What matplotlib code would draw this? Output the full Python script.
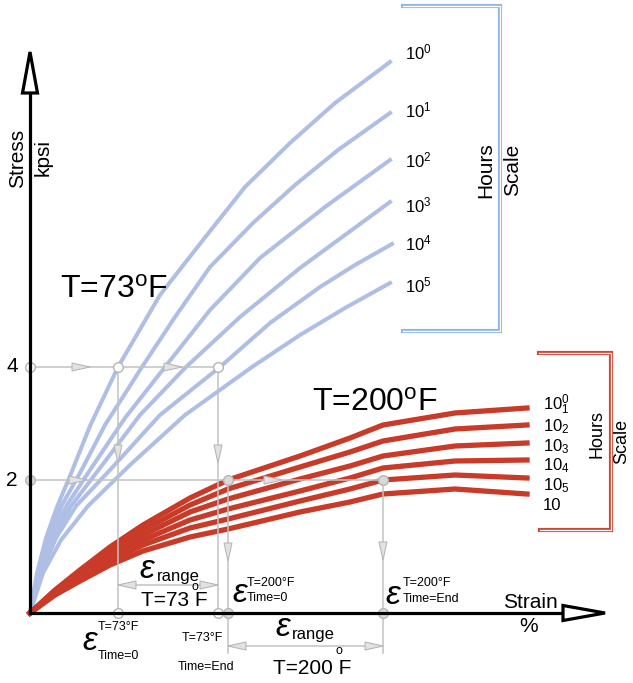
import matplotlib.pyplot as plt
from matplotlib.patches import Polygon

plt.rcParams['font.family'] = ['Liberation Sans', 'DejaVu Sans']
plt.rcParams['mathtext.fontset'] = 'custom'
plt.rcParams['mathtext.rm'] = 'Liberation Sans'
plt.rcParams['mathtext.it'] = 'Liberation Sans:italic'
plt.rcParams['mathtext.default'] = 'regular'

BLUE = '#aebee4'
RED = '#c93a28'
GUIDE = '#c2c2c2'

# diagram units (schematic, origin at the axes corner)
hours_labels_73 = ['10$^{0}$', '10$^{1}$', '10$^{2}$', '10$^{3}$', '10$^{4}$', '10$^{5}$']
hours_labels_200 = ['10$^{0}_{1}$', '10$_{2}$', '10$_{3}$', '10$_{4}$', '10$_{5}$', '10']

# T = 73 F curves, 10^0 .. 10^5 hours
strain_73 = [
    [0, 7, 16, 27, 40, 60, 88, 130, 173, 215, 260, 305, 360],
    [0, 8, 19, 32, 50, 75, 112, 145, 180, 223, 265, 308, 360],
    [0, 9, 21, 37, 60, 95, 135, 180, 230, 295, 360],
    [0, 10, 23, 41, 70, 110, 156, 210, 270, 315, 360],
    [0, 11, 26, 46, 80, 130, 190, 240, 290, 325, 362],
    [0, 13, 31, 58, 100, 155, 222, 270, 315, 360],
]
stress_73 = [
    [0, 40, 75, 106, 137, 187, 246, 318, 373, 426, 470, 510, 551],
    [0, 40, 77, 108, 140, 188, 246, 296, 346, 390, 428, 463, 500],
    [0, 40, 76, 108, 143, 195, 246, 303, 355, 406, 453],
    [0, 40, 75, 107, 145, 198, 246, 296, 345, 378, 411],
    [0, 40, 75, 107, 143, 198, 246, 290, 326, 348, 369],
    [0, 40, 73, 107, 148, 198, 246, 278, 305, 330],
]

# T = 200 F curves, 10^0 .. 10^5 hours
strain_200 = [0, 25, 50, 80, 113, 160, 198, 270, 320, 353, 425, 497]
stress_200 = [
    [0, 23, 43, 66, 88, 115, 133, 157, 175, 188, 200, 205],
    [0, 22, 40, 62, 83, 108, 124, 146, 161, 172, 184, 188],
    [0, 21, 38, 58, 78, 101, 114, 134, 147, 157, 167, 170],
    [0, 20, 36, 55, 73, 93, 104, 122, 135, 145, 152, 153],
    [0, 19, 34, 52, 68, 85, 94, 112, 124, 133, 138, 135],
    [0, 18, 32, 48, 62, 76, 84, 101, 111, 119, 124, 119],
]

stress_ticks = [133, 246]
stress_tick_labels = ['2', '4']

# read-off points
eps_73_start, eps_73_end = 88, 188
eps_200_start, eps_200_end = 198, 353
stress_73_level, stress_200_level = 246, 133

fig = plt.figure(figsize=(6.33, 6.83), dpi=100)
ax = fig.add_axes([0, 0, 1, 1])
ax.set_xlim(-30, 603)
ax.set_ylim(-70, 613)
ax.axis('off')


def head(x, y, d, length=18, half=4):
    dx, dy = {'r': (1, 0), 'l': (-1, 0), 'd': (0, -1)}[d]
    bx, by = x - dx * length, y - dy * length
    ox, oy = -dy * half, dx * half
    ax.add_patch(Polygon([(x, y), (bx + ox, by + oy), (bx - ox, by - oy)], closed=True,
                         fc='#e2e2e2', ec='#b8b8b8', lw=0.8, zorder=4))


def bracket(xs, ys, color):
    ax.plot(xs, ys, color=color, lw=3.0, solid_joinstyle='miter', zorder=2)
    ax.plot(xs, ys, color='white', lw=0.9, solid_joinstyle='miter', zorder=2)


# guide lines
g = dict(color=GUIDE, lw=1.1, zorder=3)
ax.plot([0, eps_73_end], [stress_73_level] * 2, **g)
ax.plot([eps_73_start] * 2, [stress_73_level, 0], **g)
ax.plot([eps_73_end] * 2, [stress_73_level, 0], **g)
ax.plot([0, eps_200_end], [stress_200_level] * 2, **g)
ax.plot([eps_200_start] * 2, [stress_200_level, -40], **g)
ax.plot([eps_200_end] * 2, [stress_200_level, -40], **g)
ax.plot([eps_73_start, eps_73_end], [28, 28], **g)
ax.plot([eps_200_start, eps_200_end], [-33, -33], **g)

# curves
for xs, ys in zip(strain_73, stress_73):
    ax.plot(xs, ys, color=BLUE, lw=2.9, zorder=2)
for ys in stress_200:
    ax.plot(strain_200, ys, color=RED, lw=3.8, zorder=2.5)

# arrow heads on guides
head(60, stress_73_level, 'r')
head(152, stress_73_level, 'r')
head(57, stress_200_level, 'r')
head(252, stress_200_level, 'r')
head(eps_73_start, 150, 'd')
head(eps_73_end, 150, 'd')
head(eps_200_start, 52, 'd')
head(eps_200_end, 53, 'd')
head(eps_73_start, 28, 'l')
head(eps_73_end, 28, 'r')
head(eps_200_start, -33, 'l')
head(eps_200_end, -33, 'r')

# dots
wdot = dict(marker='o', ls='none', ms=7, mfc='white', mec='#b5b5b5', mew=1, zorder=5)
gdot = dict(marker='o', ls='none', ms=7, mfc='#d9d9d9', mec='#b5b5b5', mew=1, zorder=5)
ax.plot([0, eps_73_start, eps_73_end, eps_73_start, eps_73_end],
        [stress_73_level, stress_73_level, stress_73_level, 0, 0], **wdot)
ax.plot([0, eps_200_start, eps_200_end, eps_200_start, eps_200_end],
        [stress_200_level, stress_200_level, stress_200_level, 0, 0], **gdot)

# axes with hollow arrow heads
ax.plot([0, 0, 533], [520, 0, 0], color='black', lw=2.3, solid_joinstyle='miter', zorder=6)
ax.add_patch(Polygon([(0, 561), (-7.5, 520), (7.5, 520)], closed=True, fc='white',
                     ec='black', lw=2.3, zorder=6))
ax.add_patch(Polygon([(575, 0), (533, 7.5), (533, -7.5)], closed=True, fc='white',
                     ec='black', lw=2.3, zorder=6))

for t, lab in zip(stress_ticks, stress_tick_labels):
    ax.text(-18, t, lab, fontsize=15, ha='center', va='center')
ax.text(-12, 455, 'Stress', fontsize=15, rotation=90, ha='center', va='center')
ax.text(13, 455, 'kpsi', fontsize=15, rotation=90, ha='center', va='center')
ax.text(500, 10, 'Strain', fontsize=15, ha='center', va='center')
ax.text(499, -13, '%', fontsize=15, ha='center', va='center')

ax.text(30, 323, 'T=73$^{o}$F', fontsize=23, ha='left', va='center')
ax.text(345, 210, 'T=200$^{o}$F', fontsize=23, ha='center', va='center')

# hours scales
label_y_73 = [561, 503, 453, 408, 370, 328]
label_y_200 = [208, 186, 166, 147, 127, 108]
for lab, y in zip(hours_labels_73, label_y_73):
    ax.text(375, y, lab, fontsize=12, ha='left', va='center')
for lab, y in zip(hours_labels_200, label_y_200):
    ax.text(513, y, lab, fontsize=12, ha='left', va='center')
bracket([373, 470, 470, 373], [607, 607, 282, 282], '#8db8e8')
bracket([509, 581, 581, 510], [260, 260, 83, 83], '#d24733')
ax.text(456, 443, 'Hours', fontsize=15, rotation=90, ha='center', va='center')
ax.text(483, 443, 'Scale', fontsize=15, rotation=90, ha='center', va='center')
ax.text(567, 179, 'Hours', fontsize=13, rotation=90, ha='center', va='center')
ax.text(592, 172, 'Scale', fontsize=13, rotation=90, ha='center', va='center')

# strain annotations
eps = dict(fontsize=24, style='italic', ha='center', va='center')
small = dict(fontsize=9, ha='left', va='center')
ax.text(60, -28, 'ε', **eps)
ax.text(68, -14, 'T=73°F', **small)
ax.text(68, -43, 'Time=0', **small)
ax.text(152, -25, 'T=73°F', **small)
ax.text(148, -54, 'Time=End', **small)

ax.text(117, 43, 'ε', **eps)
ax.text(127, 36, 'range', fontsize=12, ha='left', va='center')
ax.text(162, 26, 'o', **small)
ax.text(144, 12, 'T=73 F', fontsize=15, ha='center', va='center')

ax.text(210, 19, 'ε', **eps)
ax.text(217, 30, 'T=200°F', **small)
ax.text(217, 15, 'Time=0', **small)
ax.text(363, 18, 'ε', **eps)
ax.text(373, 30, 'T=200°F', **small)
ax.text(373, 14, 'Time=End', **small)

ax.text(253, -15, 'ε', **eps)
ax.text(262, -21, 'range', fontsize=12, ha='left', va='center')
ax.text(305, -38, 'o', **small)
ax.text(282, -55, 'T=200 F', fontsize=15, ha='center', va='center')

fig.savefig('out.png', dpi=100)
